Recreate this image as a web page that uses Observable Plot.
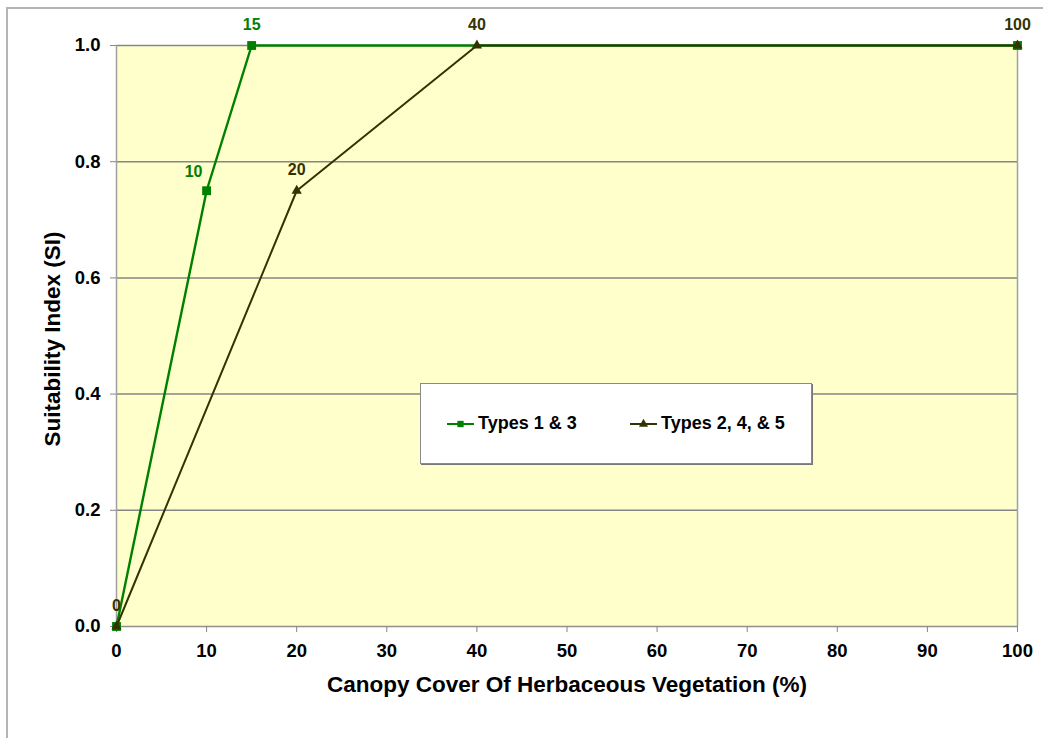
<!DOCTYPE html>
<html>
<head>
<meta charset="utf-8">
<script src="https://cdn.jsdelivr.net/npm/d3@7"></script>
<script src="https://cdn.jsdelivr.net/npm/@observablehq/plot@0.6"></script>
<style>
  html, body { margin: 0; padding: 0; background: #fff; overflow: hidden; }
  #wrap { position: relative; width: 1043px; height: 738px; font-family: "Liberation Sans", Arial, sans-serif; }
  #border { position: absolute; left: 6px; top: 7px; width: 1100px; height: 800px;
            border-left: 2px solid #b4b4b4; border-top: 2px solid #b4b4b4; }
  #chart { position: absolute; left: 0; top: 0; }
  #legend { position: absolute; left: 420px; top: 383px; width: 390px; height: 79px;
            background: #fff; border: 1px solid #8a8a8a; box-shadow: 1px 1px 0 #777;
            font-weight: bold; font-size: 18px; color: #000; }
  .item { position: absolute; top: 29px; display: flex; align-items: center; white-space: nowrap; }
  .item svg { margin-right: 4px; }
</style>
</head>
<body>
<div id="wrap">
  <div id="border"></div>
  <div id="chart"></div>
  <div id="legend"></div>
</div>
<script>
// ---- data ----
const seriesNames = ["Types 1 & 3", "Types 2, 4, & 5"];
const coverA = [0, 10, 15, 100];
const siA = [0, 0.75, 1.0, 1.0];
const coverB = [0, 20, 40, 100];
const siB = [0, 0.75, 1.0, 1.0];
const xTicks = [0, 10, 20, 30, 40, 50, 60, 70, 80, 90, 100];
const yTicks = [0, 0.2, 0.4, 0.6, 0.8, 1.0];
const xTitle = "Canopy Cover Of Herbaceous Vegetation (%)";
const yTitle = "Suitability Index (SI)";

const green = "#008000";
const olive = "#333300";

const A = coverA.map((x, i) => ({x, y: siA[i], label: String(x)}));
const B = coverB.map((x, i) => ({x, y: siB[i], label: String(x)}));

const chart = Plot.plot({
  width: 1043,
  height: 738,
  marginLeft: 116,
  marginRight: 26,
  marginTop: 45,
  marginBottom: 112,
  x: {domain: [0, 100]},
  y: {domain: [0, 1]},
  style: {fontFamily: "'Liberation Sans', Arial, sans-serif", fontWeight: "bold", fontSize: "18.5px", background: "transparent", color: "#000", overflow: "visible"},
  marks: [
    Plot.frame({fill: "#FFFFCC", stroke: null}),
    Plot.gridY(yTicks.filter(d => d > 0), {stroke: "#868686", strokeOpacity: 1, strokeWidth: 1.5}),
    Plot.ruleX([100], {stroke: "#a0a0a0", strokeWidth: 1.5}),
    Plot.ruleX([0], {stroke: "#a0a0a0", strokeWidth: 1.5}),
    Plot.ruleY([0], {stroke: "#909090", strokeWidth: 1.5}),
    Plot.axisY({ticks: yTicks, tickFormat: d => d.toFixed(1), tickSize: 6, tickPadding: 10, stroke: "#868686", label: null}),
    Plot.axisX({ticks: xTicks, tickFormat: d => String(d), tickSize: 6, tickPadding: 11, stroke: "#868686", label: null}),
    Plot.text([xTitle], {frameAnchor: "bottom", dy: 65, fontSize: 22.5, fontWeight: "bold", fill: "#000"}),
    Plot.text([yTitle], {frameAnchor: "left", textAnchor: "middle", dx: -64, dy: 3, rotate: -90, fontSize: 22.5, fontWeight: "bold", fill: "#000"}),
    Plot.line(A, {x: "x", y: "y", stroke: green, strokeWidth: 2.4}),
    Plot.dot(A, {x: "x", y: "y", symbol: "square", r: 5, fill: green, stroke: null}),
    Plot.line(B, {x: "x", y: "y", stroke: olive, strokeWidth: 2}),
    Plot.dot(B, {x: "x", y: "y", symbol: "triangle", r: 3.8, fill: olive, stroke: null}),
    Plot.text(A.filter(d => d.x !== 10 && d.x !== 0 && d.x !== 100), {x: "x", y: "y", text: "label", dy: -21, fill: green, fontSize: 16, fontWeight: "bold"}),
    Plot.text(A.filter(d => d.x === 10), {x: "x", y: "y", text: "label", dy: -19, dx: -13, fill: green, fontSize: 16, fontWeight: "bold"}),
    Plot.text(B, {x: "x", y: "y", text: "label", dy: -21, fill: olive, fontSize: 16, fontWeight: "bold"})
  ]
});
document.getElementById("chart").appendChild(chart);

// ---- legend ----
const legend = document.getElementById("legend");
const legendDefs = [
  {name: seriesNames[0], color: green, symbol: d3.symbolSquare, size: 40, left: 26},
  {name: seriesNames[1], color: olive, symbol: d3.symbolTriangle, size: 36, left: 209}
];
for (const d of legendDefs) {
  const item = document.createElement("div");
  item.className = "item";
  item.style.left = d.left + "px";
  const svg = d3.create("svg").attr("width", 27).attr("height", 14);
  svg.append("line").attr("x1", 0).attr("x2", 27).attr("y1", 7).attr("y2", 7).attr("stroke", d.color).attr("stroke-width", 2);
  svg.append("path").attr("transform", "translate(13.5,7)").attr("d", d3.symbol(d.symbol, d.size)()).attr("fill", d.color);
  item.appendChild(svg.node());
  const t = document.createElement("span");
  t.textContent = d.name;
  item.appendChild(t);
  legend.appendChild(item);
}
</script>
</body>
</html>
